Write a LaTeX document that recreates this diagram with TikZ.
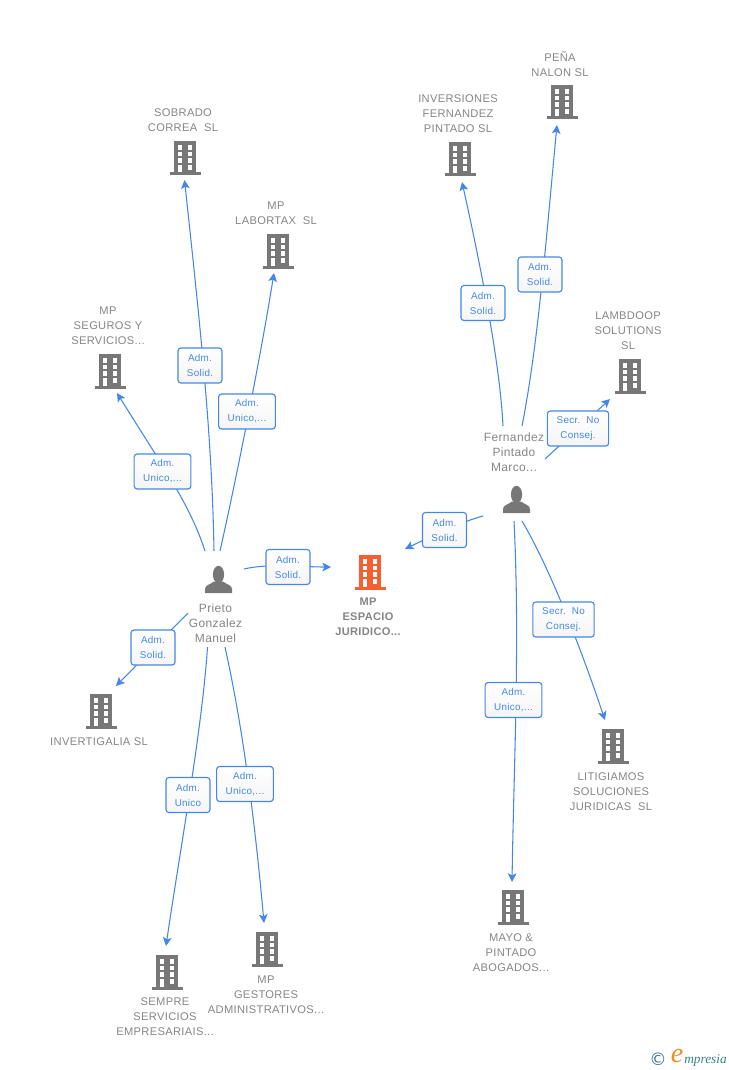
\documentclass[tikz,border=0pt]{standalone}
\usepackage{fontspec}
\setmainfont{Liberation Sans}
\newfontfamily\capf[LetterSpace=3]{Liberation Sans}
\newfontfamily\lblf[LetterSpace=3]{Liberation Sans}
\newfontfamily\logof{Liberation Serif}
\newfontfamily\symf{DejaVu Sans}
\usetikzlibrary{arrows.meta,backgrounds}
\definecolor{blueln}{HTML}{4488E6}
\definecolor{capgray}{HTML}{858585}
\definecolor{icongray}{HTML}{777777}
\definecolor{orangeic}{HTML}{F85F30}
\definecolor{logoteal}{HTML}{3D7C8E}
\definecolor{logoor}{HTML}{F08A24}
\tikzset{
  conn/.style={draw=blueln,line width=0.8pt},
  arr/.style={conn,-{Stealth[length=6.5pt,width=6.5pt,inset=1.5pt]}},
  lbl/.style={draw=blueln,line width=0.85pt,rounded corners=2.2pt,top color=white,bottom color=white!96!black,
     text=blueln,font=\lblf\fontsize{7.4}{11.25}\selectfont,align=center,inner sep=0pt,minimum height=26.25pt},
  caplbl/.style={text=capgray,font=\capf\fontsize{8.35}{11.25}\selectfont,align=center,inner sep=0pt},
  perslbl/.style={text=capgray,font=\capf\fontsize{9}{11.25}\selectfont,align=center,inner sep=0pt},
  anchorbox/.style={inner sep=0pt,minimum width=24pt,minimum height=25pt}
}
\newcommand{\Bldg}[4]{%
  \node[anchorbox] (#1) at (#2,#3) {};
  \begin{scope}[shift={(#2,#3)}]
    \fill[#4] (-11,-17) rectangle (11,15);
    \fill[#4] (-15.5,14.5) rectangle (15.5,17.5);
    \foreach \wy in {-13,-6.3,0.3}{
      \fill[white] (-7.4,\wy) rectangle (-2.6,\wy+4.6);
      \fill[white] (2.6,\wy) rectangle (7.4,\wy+4.6);
    }
    \fill[white] (-7.4,7) rectangle (-2.6,14.5);
    \fill[white] (2.6,7) rectangle (7.4,11.7);
  \end{scope}}
\newcommand{\Pers}[3]{%
  \node[anchorbox] (#1) at (#2,#3) {};
  \begin{scope}[shift={(#2,#3)}]
    \fill[icongray] (0,-5) ellipse (5.6 and 8.7);
    \fill[icongray] (-13.5,13.5) -- (-13.5,9.5) .. controls (-13.5,5.5) and (-8,5) .. (-4.5,2)
       -- (4.5,2) .. controls (8,5) and (13.5,5.5) .. (13.5,9.5) -- (13.5,13.5) -- cycle;
  \end{scope}}
\begin{document}
\begin{tikzpicture}[x=0.75pt,y=-0.75pt]
\useasboundingbox (0,0) rectangle (728,1070);
% icons
\Bldg{sobrado}{185}{158}{icongray}
\Bldg{labortax}{278}{251}{icongray}
\Bldg{seguros}{110}{371}{icongray}
\Bldg{inversiones}{460}{159}{icongray}
\Bldg{pena}{562}{102}{icongray}
\Bldg{lambdoop}{630}{376}{icongray}
\Bldg{espacio}{370}{572}{orangeic}
\Bldg{invertigalia}{101}{711}{icongray}
\Bldg{sempre}{167}{972}{icongray}
\Bldg{gestores}{267}{949}{icongray}
\Bldg{mayo}{513}{907}{icongray}
\Bldg{litigiamos}{613}{746}{icongray}
\Pers{prieto}{218.5}{579.5}
\Pers{fernandez}{516.5}{499.5}
% captions
\node[caplbl] (tsobrado) at (183,120.5) {SOBRADO\\CORREA\ \ SL};
\node[caplbl] (tlabortax) at (276,213.5) {MP\\LABORTAX\ \ SL};
\node[caplbl] (tseguros) at (108,326) {MP\\SEGUROS Y\\SERVICIOS...};
\node[caplbl] (tinversiones) at (458,114) {INVERSIONES\\FERNANDEZ\\PINTADO SL};
\node[caplbl] (tpena) at (560,64.5) {PEÑA\\NALON SL};
\node[caplbl] (tlambdoop) at (628,331) {LAMBDOOP\\SOLUTIONS\\SL};
\node[caplbl,font=\capf\bfseries\fontsize{8.3}{11.25}\selectfont] (tespacio) at (368,617) {MP\\ESPACIO\\JURIDICO...};
\node[caplbl] (tinvertigalia) at (99,742) {INVERTIGALIA SL};
\node[caplbl] (tsempre) at (165,1017) {SEMPRE\\SERVICIOS\\EMPRESARIAIS...};
\node[caplbl] (tgestores) at (266,995) {MP\\GESTORES\\ADMINISTRATIVOS...};
\node[caplbl] (tmayo) at (511,953) {MAYO \&\\PINTADO\\ABOGADOS...};
\node[caplbl] (tlitigiamos) at (611,792) {LITIGIAMOS\\SOLUCIONES\\JURIDICAS\ \ SL};
\node[perslbl] (tprieto) at (215.5,623.5) {Prieto\\Gonzalez\\Manuel};
\node[perslbl] (tfernandez) at (514,452.5) {Fernandez\\Pintado\\Marco...};
% connector ends
\coordinate (a1) at (214,551); \coordinate (b1) at (184.5,180);
\coordinate (a2) at (220,551); \coordinate (b2) at (274,273);
\coordinate (a3) at (205,551); \coordinate (b3) at (117,393);
\coordinate (a4) at (244,569); \coordinate (b4) at (331,567);
\coordinate (a5) at (188,613); \coordinate (b5) at (116,686);
\coordinate (a6) at (207.5,647); \coordinate (b6) at (166,946);
\coordinate (a7) at (225,647); \coordinate (b7) at (264,923);
\coordinate (a8) at (483,516); \coordinate (b8) at (405,549);
\coordinate (a9) at (503,426); \coordinate (b9) at (462,182);
\coordinate (a10) at (522,426); \coordinate (b10) at (557,125);
\coordinate (a11) at (545,459); \coordinate (b11) at (610,399);
\coordinate (a12) at (522,521); \coordinate (b12) at (605,720);
\coordinate (a13) at (514,521); \coordinate (b13) at (512,882);
% connectors
\draw[arr] (a1) .. controls (212,440) and (202,342) .. (b1);
\draw[arr] (a2) .. controls (236,480) and (260,360) .. (b2);
\draw[arr] (a3) .. controls (190,505) and (165,470) .. (b3);
\draw[arr] (a4) .. controls (270,563) and (300,567) .. (b4);
\draw[arr] (a5) to (b5);
\draw[arr] (a6) .. controls (202,730) and (180,850) .. (b6);
\draw[arr] (a7) .. controls (240,715) and (253,800) .. (b7);
\draw[arr] (a8) .. controls (455,524) and (430,537) .. (b8);
\draw[arr] (a9) .. controls (500,365) and (482,272) .. (b9);
\draw[arr] (a10) .. controls (538,345) and (546,240) .. (b10);
\draw[arr] (a11) to (b11);
\draw[arr] (a12) .. controls (548,565) and (578,640) .. (b12);
\draw[arr] (a13) .. controls (520,640) and (514,760) .. (b13);
% connector labels
\node[lbl,minimum width=33pt] (l1) at (200,365.5) {Adm.\\Solid.};
\node[lbl,minimum width=42.5pt] (l2) at (247,411.5) {Adm.\\Unico,...};
\node[lbl,minimum width=42.5pt] (l3) at (162.5,471.5) {Adm.\\Unico,...};
\node[lbl,minimum width=33pt] (l4) at (288,567) {Adm.\\Solid.};
\node[lbl,minimum width=33pt] (l5) at (153,647.5) {Adm.\\Solid.};
\node[lbl,minimum width=33pt] (l6) at (188,795) {Adm.\\Unico};
\node[lbl,minimum width=42.5pt] (l7) at (245,784) {Adm.\\Unico,...};
\node[lbl,minimum width=33pt] (l8) at (444.5,530) {Adm.\\Solid.};
\node[lbl,minimum width=33pt] (l9) at (483,303) {Adm.\\Solid.};
\node[lbl,minimum width=33pt] (l10) at (540,274.5) {Adm.\\Solid.};
\node[lbl,minimum width=46pt] (l11) at (578,428.5) {Secr.\ \ No\\Consej.};
\node[lbl,minimum width=46pt] (l12) at (563.5,619.5) {Secr.\ \ No\\Consej.};
\node[lbl,minimum width=42.5pt] (l13) at (513.5,700) {Adm.\\Unico,...};
% logo
\node[text=logoteal,font=\symf\fontsize{13}{14}\selectfont,inner sep=0pt] (lgc) at (658,1059) {©};
\node[text=logoor,font=\logof\itshape\fontsize{21}{22}\selectfont,inner sep=0pt] (lge) at (677,1056) {e};
\node[text=logoteal,font=\logof\itshape\fontsize{10}{12}\selectfont,inner sep=0pt,anchor=west] (lgt) at (684,1060) {mpresia};
\end{tikzpicture}
\end{document}
